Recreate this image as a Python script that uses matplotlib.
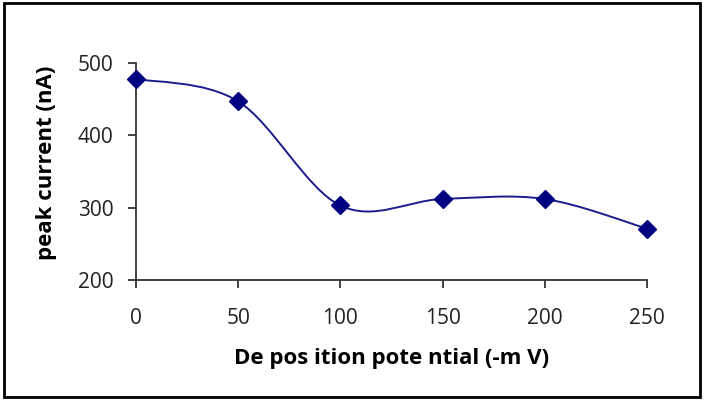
import numpy as np
import matplotlib
matplotlib.use('Agg')
import matplotlib.pyplot as plt
from matplotlib.path import Path
from matplotlib.patches import PathPatch, Rectangle

# Data
potential = [0, 50, 100, 150, 200, 250]
peak_current = [478, 447, 303, 312, 312, 271]
x_ticks = [0, 50, 100, 150, 200, 250]
y_ticks = [200, 300, 400, 500]

navy = '#000080'

plt.rcParams['font.family'] = ['Open Sans', 'DejaVu Sans']

fig = plt.figure(figsize=(7.04, 4.0), dpi=100)
ax = fig.add_axes([0.193, 0.30, 0.726, 0.5425])

# Smoothed line like Excel (Catmull-Rom through the points, as Bezier segments)
px = np.array(potential, dtype=float)
py = np.array(peak_current, dtype=float)
verts = [(px[0], py[0])]
codes = [Path.MOVETO]
n = len(px)
for i in range(n - 1):
    x0, y0 = (px[i - 1], py[i - 1]) if i > 0 else (px[i], py[i])
    x3, y3 = (px[i + 2], py[i + 2]) if i + 2 < n else (px[i + 1], py[i + 1])
    c1 = (px[i] + (px[i + 1] - x0) / 6, py[i] + (py[i + 1] - y0) / 6)
    c2 = (px[i + 1] - (x3 - px[i]) / 6, py[i + 1] - (y3 - py[i]) / 6)
    verts += [c1, c2, (px[i + 1], py[i + 1])]
    codes += [Path.CURVE4] * 3
ax.add_patch(PathPatch(Path(verts, codes), facecolor='none', edgecolor='#1c1c8e', lw=1.4, zorder=2))
ax.plot(potential, peak_current, linestyle='none', marker='D', markersize=9,
        color=navy, zorder=3, clip_on=False)

ax.set_xlim(0, 250)
ax.set_ylim(200, 500)
ax.set_xticks(x_ticks)
ax.set_yticks(y_ticks)
for s in ['top', 'right']:
    ax.spines[s].set_visible(False)
for s in ['left', 'bottom']:
    ax.spines[s].set_color('#333333')
    ax.spines[s].set_linewidth(1.3)
ax.tick_params(direction='out', length=6, width=1.3, color='#333333',
               labelsize=15, labelcolor='#222222')
ax.tick_params(axis='x', pad=14)
ax.tick_params(axis='y', pad=10)

ax.set_xlabel('De pos ition pote ntial (-m V)', fontsize=16, fontweight='bold', va='center')
ax.xaxis.set_label_coords(0.5, -0.36)
ax.set_ylabel('peak current (nA)', fontsize=16, fontweight='bold', va='center')
ax.yaxis.set_label_coords(-0.174, 0.54)

# Outer frame
fig.patches.append(Rectangle((0.005, 0.008), 0.99, 0.984, transform=fig.transFigure,
                             fill=False, edgecolor='black', lw=2))

fig.savefig('out.png', dpi=100)
